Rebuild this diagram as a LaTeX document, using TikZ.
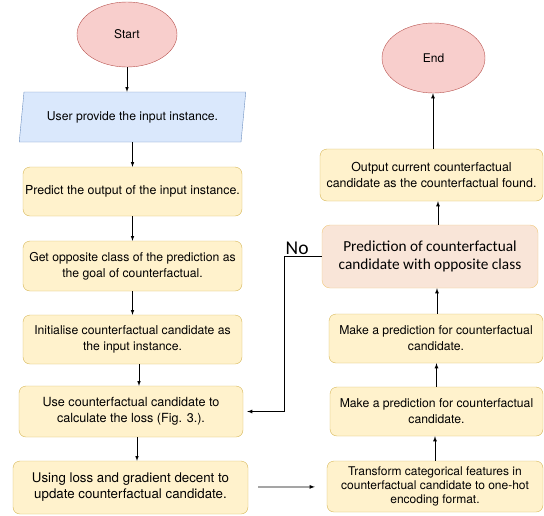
\documentclass[tikz,border=0pt]{standalone}
\usepackage{fontspec}
\setmainfont{TeX Gyre Heros}
\newfontfamily\calfont{Carlito}
\usetikzlibrary{shapes.geometric}
\tikzset{>=latex}
\tikzset{every text node part/.style={align=center}}
\definecolor{termfill}{HTML}{F8CECC}
\definecolor{termdraw}{HTML}{B85450}
\definecolor{iofill}{HTML}{DAE8FC}
\definecolor{iodraw}{HTML}{6C8EBF}
\definecolor{procfill}{HTML}{FFF2CC}
\definecolor{procdraw}{HTML}{D6B656}
\definecolor{checkfill}{HTML}{F9E5D8}
\definecolor{checkdraw}{HTML}{F0C97E}
\tikzset{
  term/.style={ellipse, draw=termdraw, fill=termfill, inner sep=0pt,
    font=\fontsize{12}{14}\selectfont},
  inout/.style={trapezium, trapezium left angle=72, trapezium right angle=108,
    trapezium stretches=true, draw=iodraw, fill=iofill, inner sep=0pt,
    font=\fontsize{12.2}{16}\selectfont},
  proc/.style={rectangle, rounded corners=7pt, draw=procdraw, fill=procfill,
    inner sep=0pt, font=\fontsize{12.2}{16}\selectfont},
  check/.style={rectangle, rounded corners=8pt, draw=checkdraw, fill=checkfill,
    inner sep=0pt, font=\calfont\fontsize{15.3}{17.5}\selectfont},
  flow/.style={->, semithick},
  flowup/.style={->, thick}
}

\begin{document}
\begin{tikzpicture}[x=1pt, y=-1pt]
\useasboundingbox (0,0) rectangle (544,515);

% Left column
\node[term, minimum width=100pt, minimum height=65pt] (start) at (127,34.5) {Start};
\node[inout, minimum width=227pt, minimum height=50pt] (input) at (132.5,117) {User provide the input instance.};
\node[proc, minimum width=219pt, minimum height=49pt, font=\fontsize{12.4}{15}\selectfont] (predict) at (132.5,191.5) {Predict the output of the input instance.};
\node[proc, minimum width=219pt, minimum height=50pt] (goal) at (132.5,266) {Get opposite class of the prediction as\\the goal of counterfactual.};
\node[proc, minimum width=219pt, minimum height=49pt] (init) at (132.5,339.5) {Initialise counterfactual candidate as\\the input instance.};
\node[proc, minimum width=224pt, minimum height=51pt, font=\fontsize{12.6}{16}\selectfont] (loss) at (131,411.5) {Use counterfactual candidate to\\calculate the loss (Fig. 3.).};
\node[proc, minimum width=235pt, minimum height=53pt, font=\fontsize{13.3}{16}\selectfont] (update) at (130.5,487.5) {Using loss and gradient decent to\\update counterfactual candidate.};

% Right column
\node[proc, minimum width=216pt, minimum height=51pt, font=\fontsize{12}{14.2}\selectfont] (onehot) at (435,486.5) {Transform categorical features in\\counterfactual candidate to one-hot\\encoding format.};
\node[proc, minimum width=213pt, minimum height=49pt] (makeA) at (436.5,411.5) {Make a prediction for counterfactual\\candidate.};
\node[proc, minimum width=214pt, minimum height=49pt] (makeB) at (436,338.5) {Make a prediction for counterfactual\\candidate.};
\node[check, minimum width=216pt, minimum height=63pt] (opposite) at (430,256.5) {Prediction of counterfactual\\candidate with opposite class};
\node[proc, minimum width=223pt, minimum height=52pt, font=\fontsize{12.4}{16}\selectfont] (found) at (431.5,175) {Output current counterfactual\\candidate as the counterfactual found.};
\node[term, minimum width=103pt, minimum height=70pt] (end) at (433.5,58) {End};

% Connectors
\draw[flow] (start.south) -- (start.south |- input.north);
\draw[flow] (input.south) -- (input.south |- predict.north);
\draw[flow] (predict) -- (goal);
\draw[flow] (goal) -- (init);
\draw[flow] ([xshift=6.5pt]init.south) -- ([xshift=6.5pt]init.south |- loss.north);
\draw[flow] ([xshift=6pt]loss.south) -- ([xshift=6pt]loss.south |- update.north);
\draw[flowup, shorten <=10pt, shorten >=12pt] (update) -- (onehot);
\draw[flowup] (onehot) -- (onehot |- makeA.south);
\draw[flowup] (makeA.north) -- (makeA.north |- makeB.south);
\draw[flowup] ([xshift=1pt]makeB.north) -- ([xshift=1pt]makeB.north |- opposite.south);
\draw[flowup] ([xshift=8pt]opposite.north) -- ([xshift=8pt]opposite.north |- found.south);
\draw[flowup] ([xshift=1.5pt]found.north) -- ([xshift=1.5pt]found.north |- end.south);
\draw[flowup, shorten >=4pt] (opposite.west) -- ++(-37.5,0) coordinate (turn) |- (loss.east)
  node[pos=0, above right, inner sep=1pt, font=\calfont\fontsize{19.5}{21}\selectfont] (no) {No};

\end{tikzpicture}
\end{document}
